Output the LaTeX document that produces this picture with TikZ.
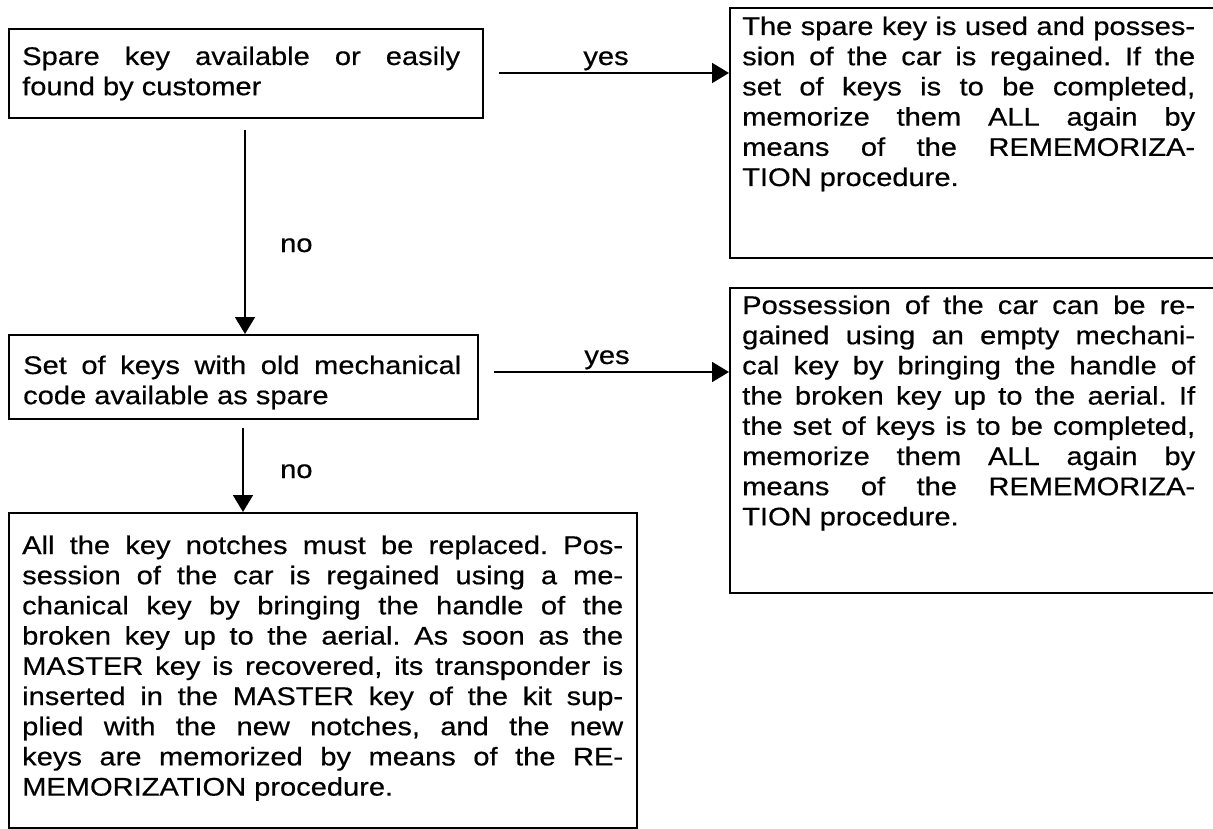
\documentclass[tikz,border=0pt]{standalone}
\usepackage{fontspec}
\setmainfont{Liberation Sans}[FakeStretch=1.14, FakeBold=0.5]
\usetikzlibrary{arrows.meta}
\frenchspacing
\newcommand\JL[1]{\hbox to\hsize{#1}}
\tikzset{
  box/.style={draw, line width=1.7pt, inner sep=0pt, anchor=north west},
  txt/.style={inner sep=0pt, anchor=base west, font=\fontsize{25.5}{30.2}\selectfont},
  lbl/.style={inner sep=0pt, anchor=base, font=\fontsize{25.5}{30.2}\selectfont},
  arr/.style={line width=1.7pt, -{Triangle[width=20pt,length=17pt]}}
}
\begin{document}
\begin{tikzpicture}[x=1pt,y=-1pt]
\useasboundingbox (0,0) rectangle (1213,829);
\clip (0,0) rectangle (1213,829);
% boxes
\node[box, minimum width=474pt, minimum height=89pt] (b1) at (8,28) {};
\node[box, minimum width=469pt, minimum height=84pt] (b2) at (8,334) {};
\node[box, minimum width=628pt, minimum height=315pt] (b3) at (8,512) {};
\node[box, minimum width=490pt, minimum height=250pt] (r1) at (729,7) {};
\node[box, minimum width=490pt, minimum height=305pt] (r2) at (729,287) {};
% texts
\node[txt] (t1) at (22,65) {\vtop{\hsize=438pt
  \JL{Spare key available or easily}
  \hbox{found by customer}}};
\node[txt] (t2) at (23,374) {\vtop{\hsize=438pt
  \JL{Set of keys with old mechanical}
  \hbox{code available as spare}}};
\node[txt] (t3) at (22,554) {\vtop{\hsize=601pt
  \JL{All the key notches must be replaced. Pos-}
  \JL{session of the car is regained using a me-}
  \JL{chanical key by bringing the handle of the}
  \JL{broken key up to the aerial. As soon as the}
  \JL{MASTER key is recovered, its transponder is}
  \JL{inserted in the MASTER key of the kit sup-}
  \JL{plied with the new notches, and the new}
  \JL{keys are memorized by means of the RE-}
  \hbox{MEMORIZATION procedure.}}};
\node[txt] (tr1) at (742,35) {\vtop{\hsize=453pt
  \JL{The spare key is used and posses-}
  \JL{sion of the car is regained. If the}
  \JL{set of keys is to be completed,}
  \JL{memorize them ALL again by}
  \JL{means of the REMEMORIZA-}
  \hbox{TION procedure.}}};
\node[txt] (tr2) at (742,314) {\vtop{\hsize=453pt
  \JL{Possession of the car can be re-}
  \JL{gained using an empty mechani-}
  \JL{cal key by bringing the handle of}
  \JL{the broken key up to the aerial. If}
  \JL{the set of keys is to be completed,}
  \JL{memorize them ALL again by}
  \JL{means of the REMEMORIZA-}
  \hbox{TION procedure.}}};
% connectors
\coordinate (y1s) at (499,73);
\coordinate (y2s) at (494,372);
\coordinate (n1s) at (245,130);
\coordinate (n2s) at (243,428);
\draw[arr] (y1s) -- (y1s -| r1.west);
\draw[arr] (y2s) -- (y2s -| r2.west);
\draw[arr] (n1s) -- (n1s |- b2.north);
\draw[arr] (n2s) -- (n2s |- b3.north);
% labels
\node[lbl] (yes1) at (606,65) {yes};
\node[lbl] (yes2) at (607,364) {yes};
\node[lbl, anchor=base west] (no1) at (280,252) {no};
\node[lbl, anchor=base west] (no2) at (280,478) {no};
\end{tikzpicture}
\end{document}
